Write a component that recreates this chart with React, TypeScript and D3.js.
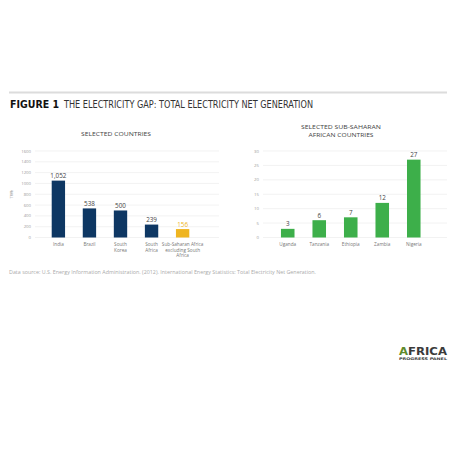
import React, { useEffect, useRef } from 'react';
import * as d3 from 'd3';

// left panel: selected countries (TWh)
const countries = ['India', 'Brazil', 'South Korea', 'South Africa', 'Sub-Saharan Africa excluding South Africa'];
const countryLabels = [['India'], ['Brazil'], ['South', 'Korea'], ['South', 'Africa'], ['Sub-Saharan Africa', 'excluding South', 'Africa']];
const countryValues = [1052, 538, 500, 239, 156];
const countryValueLabels = ['1,052', '538', '500', '239', '156'];
const leftTicks = [0, 200, 400, 600, 800, 1000, 1200, 1400, 1600];

// right panel: selected sub-saharan african countries (TWh)
const africa = ['Uganda', 'Tanzania', 'Ethiopia', 'Zambia', 'Nigeria'];
const africaValues = [3, 6, 7, 12, 27];
const rightTicks = [0, 5, 10, 15, 20, 25, 30];

const NAVY = '#0e3763';
const YELLOW = '#efb520';
const GREEN = '#3daf4a';
const FONT = "'Open Sans', 'DejaVu Sans', sans-serif";

const App: React.FC = () => {
  const svgRef = useRef<SVGSVGElement>(null);

  useEffect(() => {
    if (!svgRef.current) return;
    const svg = d3.select(svgRef.current);
    svg.selectAll('*').remove();

    svg.append('rect').attr('width', 456).attr('height', 456).attr('fill', '#fff');

    // header
    svg.append('line')
      .attr('x1', 9).attr('x2', 447).attr('y1', 92.5).attr('y2', 92.5)
      .attr('stroke', '#dcdcdc').attr('stroke-width', 2);
    svg.append('text')
      .attr('x', 10).attr('y', 108)
      .attr('font-family', "'DejaVu Sans', sans-serif").attr('font-weight', 900)
      .attr('font-size', 10).attr('fill', '#111')
      .attr('textLength', 49).attr('lengthAdjust', 'spacingAndGlyphs')
      .text('FIGURE 1');
    svg.append('text')
      .attr('x', 64).attr('y', 108)
      .attr('font-family', "'Liberation Sans Narrow', 'DejaVu Sans Condensed', sans-serif")
      .attr('font-size', 10).attr('fill', '#333')
      .attr('textLength', 249).attr('lengthAdjust', 'spacingAndGlyphs')
      .text('THE ELECTRICITY GAP: TOTAL ELECTRICITY NET GENERATION');

    const yTop = 151;
    const yBottom = 237.5;

    const drawPanel = (
      cats: string[],
      labels: string[][],
      values: number[],
      valueLabels: string[],
      ticks: number[],
      colors: string[],
      xRange: [number, number],
      gridRange: [number, number],
      title: string[],
      titleWidths: number[],
      titleX: number,
      titleY: number
    ) => {
      const x = d3.scaleBand().domain(cats).range(xRange).padding(0.57);
      const y = d3.scaleLinear().domain([0, ticks[ticks.length - 1]]).range([yBottom, yTop]);
      const g = svg.append('g').attr('font-family', FONT);

      // gridlines
      g.selectAll('.grid')
        .data(ticks)
        .enter()
        .append('line')
        .attr('x1', gridRange[0]).attr('x2', gridRange[1])
        .attr('y1', d => y(d)).attr('y2', d => y(d))
        .attr('stroke', '#ececec').attr('stroke-width', 0.7);

      // tick labels
      g.selectAll('.tick')
        .data(ticks)
        .enter()
        .append('text')
        .attr('x', gridRange[0] - 4)
        .attr('y', d => y(d) + 1.6)
        .attr('text-anchor', 'end')
        .attr('font-size', 4.3).attr('fill', '#999')
        .text(d => String(d));

      // bars
      g.selectAll('.bar')
        .data(values)
        .enter()
        .append('rect')
        .attr('x', (d, i) => x(cats[i]) || 0)
        .attr('y', d => y(d))
        .attr('width', x.bandwidth())
        .attr('height', d => yBottom - y(d))
        .attr('fill', (d, i) => colors[i]);

      // value labels
      g.selectAll('.val')
        .data(values)
        .enter()
        .append('text')
        .attr('x', (d, i) => (x(cats[i]) || 0) + x.bandwidth() / 2)
        .attr('y', d => y(d) - 2.5)
        .attr('text-anchor', 'middle')
        .attr('font-size', 6.3)
        .attr('fill', (d, i) => (colors[i] === YELLOW ? YELLOW : '#444'))
        .text((d, i) => valueLabels[i]);

      // category labels
      cats.forEach((c, i) => {
        const t = g.append('text')
          .attr('x', (x(c) || 0) + x.bandwidth() / 2)
          .attr('y', 246)
          .attr('text-anchor', 'middle')
          .attr('font-size', 4.7).attr('fill', '#777');
        labels[i].forEach((line, j) => {
          t.append('tspan')
            .attr('x', (x(c) || 0) + x.bandwidth() / 2)
            .attr('dy', j === 0 ? 0 : 5.6)
            .text(line);
        });
      });

      // panel title
      title.forEach((line, j) => {
        g.append('text')
          .attr('x', titleX - titleWidths[j] / 2).attr('y', titleY + j * 8)
          .attr('font-size', 5.2).attr('fill', '#444')
          .attr('textLength', titleWidths[j]).attr('lengthAdjust', 'spacingAndGlyphs')
          .text(line);
      });
    };

    drawPanel(
      countries,
      countryLabels,
      countryValues,
      countryValueLabels,
      leftTicks,
      [NAVY, NAVY, NAVY, NAVY, YELLOW],
      [34, 207],
      [35, 219],
      ['SELECTED COUNTRIES'],
      [70],
      116,
      136
    );

    drawPanel(
      africa,
      africa.map(a => [a]),
      africaValues,
      africaValues.map(v => String(v)),
      rightTicks,
      africa.map(() => GREEN),
      [263, 438.5],
      [263, 447],
      ['SELECTED SUB-SAHARAN', 'AFRICAN COUNTRIES'],
      [80, 65],
      341,
      129
    );

    // y axis unit
    svg.append('text')
      .attr('transform', 'translate(13,194) rotate(-90)')
      .attr('text-anchor', 'middle')
      .attr('font-family', FONT).attr('font-size', 4.3).attr('fill', '#999')
      .text('TWh');

    // source
    svg.append('text')
      .attr('x', 9).attr('y', 274)
      .attr('font-family', FONT).attr('font-size', 4.6).attr('fill', '#aaa')
      .attr('textLength', 307).attr('lengthAdjust', 'spacingAndGlyphs')
      .text('Data source: U.S. Energy Information Administration. (2012). International Energy Statistics: Total Electricity Net Generation.');

    // logo
    const logo = svg.append('text')
      .attr('x', 399).attr('y', 355)
      .attr('font-family', "'DejaVu Sans', sans-serif").attr('font-weight', 900)
      .attr('font-size', 10)
      .attr('textLength', 48).attr('lengthAdjust', 'spacingAndGlyphs');
    logo.append('tspan').attr('fill', '#5f8a2b').text('A');
    logo.append('tspan').attr('fill', '#3a3a3a').text('FRICA');
    svg.append('text')
      .attr('x', 399).attr('y', 359.5)
      .attr('font-family', "'DejaVu Sans', sans-serif").attr('font-weight', 700)
      .attr('font-size', 3.6).attr('fill', '#3a3a3a')
      .attr('textLength', 48).attr('lengthAdjust', 'spacingAndGlyphs')
      .text('PROGRESS PANEL');
  }, []);

  return (
    <svg
      ref={svgRef}
      width={456}
      height={456}
      style={{ position: 'absolute', left: 0, top: 0, display: 'block' }}
    />
  );
};

export default App;
